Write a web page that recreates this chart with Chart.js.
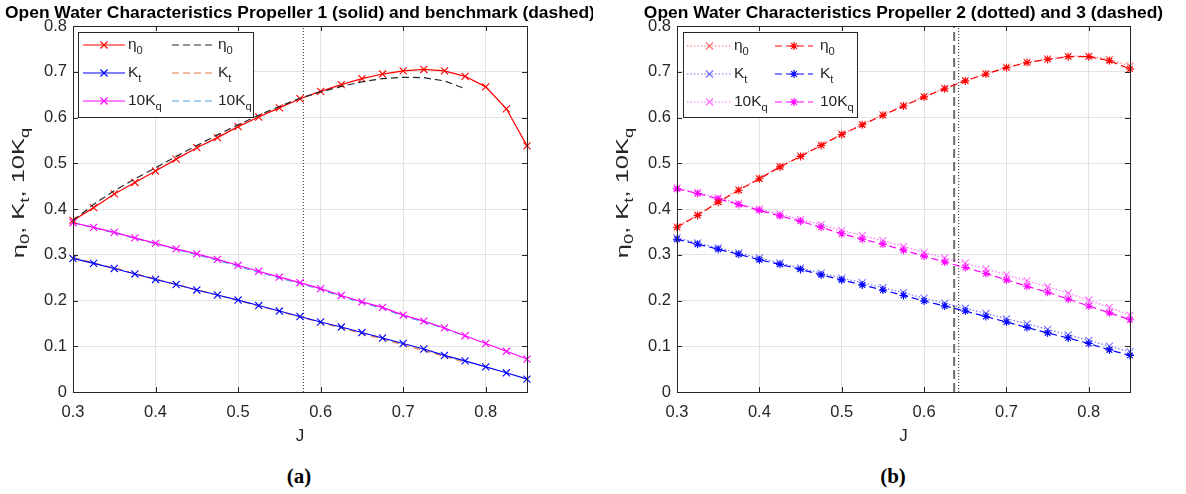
<!DOCTYPE html>
<html>
<head>
<meta charset="utf-8">
<script src="https://cdn.jsdelivr.net/npm/chart.js@4.4.1/dist/chart.umd.min.js"></script>
<style>
  body { margin: 0; background: #fff; width: 1186px; height: 494px; overflow: hidden; position: relative; }
  .panel { position: absolute; top: 0; width: 593px; height: 460px; overflow: hidden; }
  #panelA { left: 0; }
  #panelB { left: 593px; }
  .caption { position: absolute; top: 464px; font: bold 21px 'Liberation Serif', serif; color: #000; transform: translateX(-50%); }
</style>
</head>
<body>
<div class="panel" id="panelA"><canvas id="chartA" width="593" height="460"></canvas></div>
<div class="panel" id="panelB"><canvas id="chartB" width="593" height="460"></canvas></div>
<div class="caption" style="left:299px">(a)</div>
<div class="caption" style="left:893px">(b)</div>
<script>
// Advance ratio J
const J = [0.3, 0.325, 0.35, 0.375, 0.4, 0.425, 0.45, 0.475, 0.5, 0.525, 0.55, 0.575,
           0.6, 0.625, 0.65, 0.675, 0.7, 0.725, 0.75, 0.775, 0.8, 0.825, 0.85];
const jBench = [0.3, 0.325, 0.35, 0.375, 0.4, 0.425, 0.45, 0.475, 0.5, 0.525, 0.55, 0.575,
                0.6, 0.625, 0.65, 0.675, 0.7, 0.725, 0.75, 0.775];

// Propeller 1 (solid)
const eta1 = [0.375, 0.403, 0.433, 0.458, 0.483, 0.509, 0.534, 0.556, 0.580, 0.601, 0.621, 0.641,
              0.657, 0.672, 0.685, 0.695, 0.702, 0.705, 0.702, 0.690, 0.667, 0.619, 0.538];
const kt1 = [0.292, 0.281, 0.270, 0.258, 0.246, 0.235, 0.223, 0.212, 0.201, 0.189, 0.177, 0.165,
             0.153, 0.142, 0.130, 0.118, 0.106, 0.094, 0.080, 0.068, 0.055, 0.042, 0.028];
const kq1 = [0.370, 0.360, 0.349, 0.337, 0.325, 0.313, 0.302, 0.290, 0.277, 0.264, 0.251, 0.239,
             0.226, 0.211, 0.197, 0.185, 0.168, 0.155, 0.140, 0.123, 0.106, 0.089, 0.072];

// Benchmark (dashed)
const etaBench = [0.375, 0.410, 0.440, 0.466, 0.490, 0.515, 0.539, 0.562, 0.584, 0.605, 0.624, 0.642,
                  0.656, 0.668, 0.678, 0.685, 0.688, 0.687, 0.680, 0.663];
const ktBench = [0.294, 0.282, 0.271, 0.259, 0.247, 0.235, 0.223, 0.212, 0.200, 0.188, 0.176, 0.164,
                 0.152, 0.140, 0.128, 0.116, 0.103, 0.091, 0.078, 0.065];
const kqBench = [0.370, 0.359, 0.348, 0.336, 0.324, 0.312, 0.300, 0.288, 0.275, 0.262, 0.249, 0.237,
                 0.224, 0.209, 0.195, 0.183, 0.166, 0.153, 0.139, 0.122];

// Propeller 2 (dotted)
const eta2 = [0.361, 0.387, 0.416, 0.442, 0.467, 0.493, 0.516, 0.540, 0.564, 0.585, 0.606, 0.626,
              0.646, 0.664, 0.681, 0.696, 0.710, 0.721, 0.728, 0.734, 0.734, 0.727, 0.713];
const kt2 = [0.337, 0.326, 0.315, 0.304, 0.293, 0.282, 0.271, 0.260, 0.249, 0.239, 0.228, 0.217,
             0.205, 0.194, 0.183, 0.172, 0.160, 0.149, 0.137, 0.125, 0.113, 0.100, 0.088];
const kq2 = [0.446, 0.436, 0.425, 0.412, 0.400, 0.389, 0.377, 0.366, 0.353, 0.342, 0.331, 0.318,
             0.305, 0.293, 0.282, 0.269, 0.256, 0.243, 0.230, 0.216, 0.201, 0.185, 0.168];

// Propeller 3 (dashed)
const eta3 = [0.360, 0.386, 0.415, 0.441, 0.466, 0.492, 0.515, 0.539, 0.563, 0.584, 0.605, 0.625,
              0.645, 0.663, 0.680, 0.695, 0.709, 0.720, 0.727, 0.733, 0.733, 0.724, 0.706];
const kt3 = [0.334, 0.323, 0.312, 0.301, 0.289, 0.279, 0.268, 0.256, 0.245, 0.234, 0.223, 0.211,
             0.199, 0.188, 0.177, 0.165, 0.153, 0.141, 0.129, 0.118, 0.106, 0.092, 0.080];
const kq3 = [0.444, 0.434, 0.422, 0.410, 0.397, 0.385, 0.373, 0.360, 0.346, 0.334, 0.323, 0.310,
             0.297, 0.284, 0.272, 0.259, 0.245, 0.231, 0.218, 0.203, 0.188, 0.173, 0.158];

// design points (vertical lines)
const jDesign1 = 0.579;
const jDesign2 = 0.642;
const jDesign3 = 0.6365;

const xTicks = [0.3, 0.4, 0.5, 0.6, 0.7, 0.8];
const yTicks = [0, 0.1, 0.2, 0.3, 0.4, 0.5, 0.6, 0.7, 0.8];
const yRange = [0, 0.8];

const FONT = "'Liberation Sans', Arial, sans-serif";
const TEXT = '#262626';

function pts(xs, ys) {
    return ys.map((y, i) => ({ x: xs[i], y: y }));
}

function series(label, xs, ys, color, dash, marker, order) {
    return {
        label: label,
        data: pts(xs, ys),
        borderColor: color,
        backgroundColor: color,
        borderWidth: 1.2,
        borderDash: dash,
        pointStyle: marker,
        pointRadius: marker === 'star' ? 4 : (marker ? 5 : 0),
        pointBorderWidth: 1.1,
        pointBorderColor: color,
        tension: 0,
        clip: false,
        order: order
    };
}

function vline(j, color, dash, width) {
    return {
        label: '',
        data: [{ x: j, y: yRange[0] }, { x: j, y: yRange[1] }],
        borderColor: color,
        borderWidth: width,
        borderDash: dash,
        pointRadius: 0,
        order: 10
    };
}

function drawMarker(ctx, style, x, y, r) {
    const d = r * Math.SQRT1_2;
    ctx.beginPath();
    ctx.moveTo(x - d, y - d); ctx.lineTo(x + d, y + d);
    ctx.moveTo(x - d, y + d); ctx.lineTo(x + d, y - d);
    if (style === 'star') {
        ctx.moveTo(x - r, y); ctx.lineTo(x + r, y);
        ctx.moveTo(x, y - r); ctx.lineTo(x, y + r);
    }
    ctx.stroke();
}

// text with subscripts: parts = [[text, isSub], ...]
function textWidth(ctx, parts, size) {
    let w = 0;
    parts.forEach(p => {
        ctx.font = (p[1] ? size * 0.72 : size) + 'px ' + FONT;
        w += ctx.measureText(p[0]).width;
    });
    return w;
}

function drawParts(ctx, parts, x, y, size) {
    ctx.textBaseline = 'middle';
    ctx.textAlign = 'left';
    parts.forEach(p => {
        ctx.font = (p[1] ? size * 0.72 : size) + 'px ' + FONT;
        ctx.fillText(p[0], x, p[1] ? y + size * 0.38 : y);
        x += ctx.measureText(p[0]).width;
    });
}

const labelEta = [['η', false], ['0', true]];
const labelKt = [['K', false], ['t', true]];
const labelKq = [['10K', false], ['q', true]];
const yLabel = [['η', false], ['0', true], [', K', false], ['t', true], [', 10K', false], ['q', true]];

// axes box, inward ticks, title, y label and legend
const decorPlugin = {
    id: 'decor',
    afterDraw(chart, args, opts) {
        const ctx = chart.ctx;
        const a = chart.chartArea;
        const xs = chart.scales.x, ys = chart.scales.y;
        ctx.save();
        ctx.strokeStyle = TEXT;
        ctx.lineWidth = 1;
        ctx.setLineDash([]);
        ctx.strokeRect(Math.round(a.left) + 0.5, Math.round(a.top) + 0.5,
                       Math.round(a.right - a.left), Math.round(a.bottom - a.top));
        ctx.beginPath();
        xTicks.forEach(v => {
            const px = Math.round(xs.getPixelForValue(v)) + 0.5;
            ctx.moveTo(px, a.bottom); ctx.lineTo(px, a.bottom - 5);
            ctx.moveTo(px, a.top); ctx.lineTo(px, a.top + 5);
        });
        yTicks.forEach(v => {
            const py = Math.round(ys.getPixelForValue(v)) + 0.5;
            ctx.moveTo(a.left, py); ctx.lineTo(a.left + 5, py);
            ctx.moveTo(a.right, py); ctx.lineTo(a.right - 5, py);
        });
        ctx.stroke();

        // title
        ctx.fillStyle = '#000';
        ctx.font = 'bold 17.4px ' + FONT;
        ctx.textAlign = 'center';
        ctx.textBaseline = 'middle';
        ctx.fillText(opts.title, (a.left + a.right) / 2, 13);

        // y label
        ctx.fillStyle = TEXT;
        ctx.save();
        ctx.translate(opts.yLabelX, opts.yLabelY);
        ctx.rotate(-Math.PI / 2);
        ctx.scale(1.5, 1);
        const w = textWidth(ctx, yLabel, 17);
        drawParts(ctx, yLabel, -w / 2, 0, 17);
        ctx.restore();

        // legend
        const L = opts.legend;
        ctx.fillStyle = '#fff';
        ctx.fillRect(L.box[0], L.box[1], L.box[2] - L.box[0], L.box[3] - L.box[1]);
        ctx.strokeStyle = TEXT;
        ctx.lineWidth = 1;
        ctx.strokeRect(L.box[0] + 0.5, L.box[1] + 0.5, L.box[2] - L.box[0], L.box[3] - L.box[1]);
        L.items.forEach(it => {
            const ds = chart.data.datasets[it.ds];
            const col = L.cols[it.col];
            const y = L.rows[it.row];
            ctx.strokeStyle = ds.borderColor;
            ctx.lineWidth = ds.borderWidth;
            ctx.setLineDash(ds.borderDash || []);
            ctx.beginPath();
            ctx.moveTo(col[0], y); ctx.lineTo(col[1], y);
            ctx.stroke();
            ctx.setLineDash([]);
            if (ds.pointStyle) drawMarker(ctx, ds.pointStyle, (col[0] + col[1]) / 2, y, ds.pointRadius);
            ctx.fillStyle = TEXT;
            drawParts(ctx, it.text, col[2], y, 15.5);
        });
        ctx.restore();
    }
};

function baseOptions(axisW, padRight, decor) {
    return {
        responsive: false,
        animation: false,
        events: [],
        layout: { padding: { left: 0, right: padRight, top: 26, bottom: 0 } },
        plugins: { legend: { display: false }, tooltip: { enabled: false }, decor: decor },
        scales: {
            x: {
                type: 'linear', min: 0.3, max: 0.85,
                afterBuildTicks: s => { s.ticks = xTicks.map(v => ({ value: v })); },
                afterFit: s => { s.height = 68; },
                grid: { color: '#e3e3e3', drawTicks: false },
                border: { display: false },
                ticks: { color: TEXT, font: { size: 16.5, family: FONT }, padding: 11, maxRotation: 0,
                         callback: v => String(v) },
                title: { display: true, text: 'J', color: TEXT, font: { size: 17, family: FONT },
                         padding: { top: 0, bottom: 13 } }
            },
            y: {
                min: yRange[0], max: yRange[1],
                afterBuildTicks: s => { s.ticks = yTicks.map(v => ({ value: v })); },
                afterFit: s => { s.width = axisW; },
                grid: { color: '#e3e3e3', drawTicks: false },
                border: { display: false },
                ticks: { color: TEXT, font: { size: 16.5, family: FONT }, padding: 6,
                         callback: v => String(v) }
            }
        }
    };
}

function initCharts() {
    new Chart(document.getElementById('chartA'), {
        type: 'line',
        data: {
            datasets: [
                series('eta1', J, eta1, '#ff0000', [], 'crossRot', 3),
                series('kt1', J, kt1, '#0000ff', [], 'crossRot', 3),
                series('kq1', J, kq1, '#ff00ff', [], 'crossRot', 3),
                series('etaB', jBench, etaBench, '#262626', [7, 4], false, 2),
                series('ktB', jBench, ktBench, '#e07b45', [7, 4], false, 4),
                series('kqB', jBench, kqBench, '#4d9fdc', [7, 4], false, 4),
                vline(jDesign1, '#262626', [1, 2], 1)
            ]
        },
        options: baseOptions(73, 66, {
            title: 'Open Water Characteristics Propeller 1 (solid) and benchmark (dashed)',
            yLabelX: 19,
            yLabelY: 193,
            legend: {
                box: [78, 32, 253, 117],
                cols: [[83, 125, 128], [172, 216, 218]],
                rows: [45, 73, 101],
                items: [
                    { ds: 0, col: 0, row: 0, text: labelEta },
                    { ds: 1, col: 0, row: 1, text: labelKt },
                    { ds: 2, col: 0, row: 2, text: labelKq },
                    { ds: 3, col: 1, row: 0, text: labelEta },
                    { ds: 4, col: 1, row: 1, text: labelKt },
                    { ds: 5, col: 1, row: 2, text: labelKq }
                ]
            }
        }),
        plugins: [decorPlugin]
    });

    new Chart(document.getElementById('chartB'), {
        type: 'line',
        data: {
            datasets: [
                series('eta2', J, eta2, 'rgba(255,0,0,0.55)', [1.5, 2], 'crossRot', 4),
                series('kt2', J, kt2, 'rgba(0,0,255,0.55)', [1.5, 2], 'crossRot', 4),
                series('kq2', J, kq2, 'rgba(255,0,255,0.55)', [1.5, 2], 'crossRot', 4),
                series('eta3', J, eta3, '#ff0000', [7, 4], 'star', 3),
                series('kt3', J, kt3, '#0000ff', [7, 4], 'star', 3),
                series('kq3', J, kq3, '#ff00ff', [7, 4], 'star', 3),
                vline(jDesign3, '#6e6e6e', [9, 4], 2),
                vline(jDesign2, '#262626', [1, 2], 1)
            ]
        },
        options: baseOptions(84, 56, {
            title: 'Open Water Characteristics Propeller 2 (dotted) and 3 (dashed)',
            yLabelX: 30,
            yLabelY: 193,
            legend: {
                box: [90, 32, 264, 117],
                cols: [[94, 139, 141], [182, 220, 227]],
                rows: [46, 74, 102],
                items: [
                    { ds: 0, col: 0, row: 0, text: labelEta },
                    { ds: 1, col: 0, row: 1, text: labelKt },
                    { ds: 2, col: 0, row: 2, text: labelKq },
                    { ds: 3, col: 1, row: 0, text: labelEta },
                    { ds: 4, col: 1, row: 1, text: labelKt },
                    { ds: 5, col: 1, row: 2, text: labelKq }
                ]
            }
        }),
        plugins: [decorPlugin]
    });
}

document.addEventListener('DOMContentLoaded', initCharts);
</script>
</body>
</html>
